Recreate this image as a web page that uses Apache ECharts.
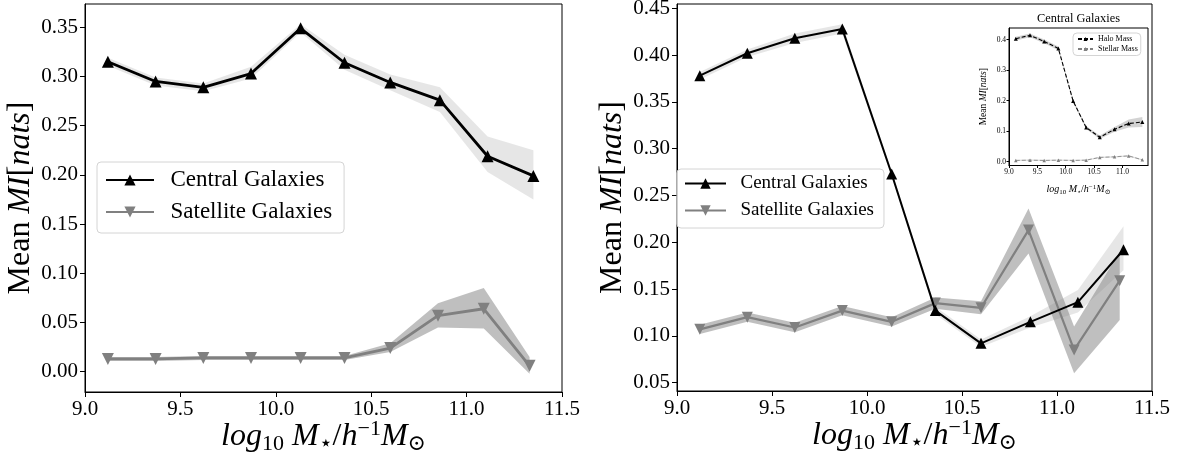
<!DOCTYPE html>
<html><head><meta charset="utf-8">
<script src="https://cdn.jsdelivr.net/npm/echarts@6/dist/echarts.min.js"></script>
<style>html,body{margin:0;padding:0;background:#fff}#c{width:1186px;height:455px}</style>
</head><body><div id="c"></div>
<script>
// ---------- data ----------
const xTicks = [9.0, 9.5, 10.0, 10.5, 11.0, 11.5];
const insetXTicks = [9.0, 9.5, 10.0, 10.5, 11.0];
const leftYTicks = [0.00, 0.05, 0.10, 0.15, 0.20, 0.25, 0.30, 0.35];
const rightYTicks = [0.05, 0.10, 0.15, 0.20, 0.25, 0.30, 0.35, 0.40, 0.45];
const insetYTicks = [0.0, 0.1, 0.2, 0.3, 0.4];

const xCentral = [9.12, 9.37, 9.62, 9.87, 10.13, 10.36, 10.60, 10.86, 11.11, 11.35];
const xSatellite = [9.12, 9.37, 9.62, 9.87, 10.13, 10.36, 10.60, 10.85, 11.09, 11.33];

// left panel
const leftCentral   = [0.315, 0.295, 0.289, 0.303, 0.349, 0.314, 0.294, 0.276, 0.219, 0.199];
const leftCentralHi = [0.319, 0.299, 0.293, 0.310, 0.353, 0.322, 0.302, 0.289, 0.239, 0.225];
const leftCentralLo = [0.311, 0.291, 0.285, 0.298, 0.345, 0.307, 0.286, 0.264, 0.203, 0.175];
const leftSat   = [0.013, 0.013, 0.014, 0.014, 0.014, 0.014, 0.024, 0.057, 0.064, 0.006];
const leftSatHi = [0.015, 0.015, 0.016, 0.016, 0.016, 0.016, 0.029, 0.0695, 0.085, 0.015];
const leftSatLo = [0.011, 0.011, 0.012, 0.012, 0.012, 0.012, 0.020, 0.045, 0.044, -0.002];

// right panel
const rightCentral   = [0.378, 0.402, 0.418, 0.428, 0.273, 0.127, 0.092, 0.115, 0.136, 0.192];
const rightCentralHi = [0.382, 0.406, 0.423, 0.433, 0.276, 0.131, 0.096, 0.121, 0.149, 0.217];
const rightCentralLo = [0.374, 0.398, 0.413, 0.423, 0.270, 0.123, 0.088, 0.109, 0.125, 0.170];
const rightSat   = [0.107, 0.120, 0.109, 0.127, 0.115, 0.135, 0.130, 0.213, 0.085, 0.159];
const rightSatHi = [0.112, 0.125, 0.114, 0.132, 0.120, 0.141, 0.137, 0.236, 0.110, 0.190];
const rightSatLo = [0.102, 0.115, 0.104, 0.122, 0.110, 0.129, 0.123, 0.188, 0.060, 0.117];

// inset (Central Galaxies)
const insetHalo   = [0.403, 0.414, 0.394, 0.371, 0.199, 0.112, 0.080, 0.106, 0.125, 0.130];
const insetHaloHi = [0.409, 0.420, 0.400, 0.377, 0.204, 0.117, 0.086, 0.114, 0.138, 0.146];
const insetHaloLo = [0.397, 0.408, 0.388, 0.365, 0.194, 0.107, 0.074, 0.098, 0.112, 0.114];
const insetStellar   = [0.004, 0.005, 0.004, 0.005, 0.004, 0.005, 0.014, 0.016, 0.019, 0.006];
const insetStellarHi = [0.006, 0.007, 0.006, 0.007, 0.006, 0.007, 0.016, 0.018, 0.021, 0.008];
const insetStellarLo = [0.002, 0.003, 0.002, 0.003, 0.002, 0.003, 0.012, 0.014, 0.017, 0.004];

// ---------- helpers ----------
const SERIF = "'Liberation Serif', 'DejaVu Serif', serif";
function pairs(xs, ys) { return xs.map((x, i) => [x, ys[i]]); }
function band(xs, lo, hi, gi, color) {
  return {type: 'custom', xAxisIndex: gi, yAxisIndex: gi, silent: true, z: 1,
    data: xs.map((x, i) => [x, lo[i], hi[i]]),
    encode: {x: 0, y: [1, 2]},
    renderItem: function (params, api) {
      if (params.dataIndexInside !== 0) return null;
      const n = params.dataInsideLength;
      const top = [], bot = [];
      for (let k = 0; k < n; k++) {
        top.push(api.coord([api.value(0, k), api.value(2, k)]));
        bot.push(api.coord([api.value(0, k), api.value(1, k)]));
      }
      return {type: 'polygon', shape: {points: top.concat(bot.reverse())}, style: {fill: color}};
    }};
}
function line(name, xs, ys, gi, color, width, size, rotate, z, dashed) {
  return {type: 'line', name: name, xAxisIndex: gi, yAxisIndex: gi, data: pairs(xs, ys),
    symbol: 'triangle', symbolSize: size, symbolRotate: rotate, showSymbol: true,
    itemStyle: {color: color}, lineStyle: {color: color, width: width, type: dashed ? [4, 2] : 'solid'},
    z: z, silent: true};
}
function massName(sz) {
  const L = Math.round(sz * 1.15), s = Math.round(sz * 0.68);
  return {
    text: '{i|log}{s|10}{r| }{i|M}{s|⋆}{r|/}{i|h}{p|−1}{i|M}{s|⊙}',
    style: {fontFamily: SERIF, fontSize: sz, color: '#000', rich: {
      i: {fontFamily: SERIF, fontStyle: 'italic', fontSize: sz, lineHeight: L, verticalAlign: 'middle', color: '#000'},
      r: {fontFamily: SERIF, fontSize: sz, lineHeight: L, verticalAlign: 'middle', color: '#000'},
      s: {fontFamily: SERIF, fontSize: s, lineHeight: s, verticalAlign: 'bottom', color: '#000'},
      p: {fontFamily: SERIF, fontSize: s, lineHeight: Math.round(s * 1.1), verticalAlign: 'top', color: '#000'}
    }}
  };
}
function miName(sz) {
  return {
    text: 'Mean {i|MI}[{i|nats}]',
    style: {fontFamily: SERIF, fontSize: sz, color: '#000', rich: {
      i: {fontFamily: SERIF, fontStyle: 'italic', fontSize: sz, color: '#000'}
    }}
  };
}
function xAxisCfg(gi, min, max, ticks, fs, margin, tickLen, nameSz, nameGap) {
  const n = massName(nameSz);
  return {type: 'value', gridIndex: gi, min: min, max: max,
    axisLine: {show: true, onZero: false, lineStyle: {color: '#000', width: 1}},
    axisTick: {show: true, inside: false, length: tickLen, customValues: ticks, lineStyle: {color: '#000', width: 1}},
    axisLabel: {customValues: ticks, formatter: v => v.toFixed(1), fontFamily: SERIF, fontSize: fs, color: '#000', margin: margin},
    splitLine: {show: false},
    name: n.text, nameLocation: 'middle', nameGap: nameGap, nameMoveOverlap: false, nameTextStyle: n.style};
}
function yAxisCfg(gi, min, max, ticks, dec, fs, margin, tickLen, nameSz, nameGap) {
  const n = miName(nameSz);
  return {type: 'value', gridIndex: gi, min: min, max: max,
    axisLine: {show: true, onZero: false, lineStyle: {color: '#000', width: 1}},
    axisTick: {show: true, inside: false, length: tickLen, customValues: ticks, lineStyle: {color: '#000', width: 1}},
    axisLabel: {customValues: ticks, formatter: v => v.toFixed(dec), fontFamily: SERIF, fontSize: fs, color: '#000', margin: margin},
    splitLine: {show: false},
    name: n.text, nameLocation: 'middle', nameGap: nameGap, nameMoveOverlap: false, nameTextStyle: n.style};
}
function legendCfg(left, top, names, fs, itemW, itemH, gap, pad, lh, spaces) {
  return {left: left, top: top, orient: 'vertical', data: names, selectedMode: false,
    itemWidth: itemW, itemHeight: itemH, itemGap: gap, padding: pad,
    formatter: n => spaces + n.trim(),
    textStyle: {fontFamily: SERIF, fontSize: fs, color: '#000', lineHeight: lh},
    borderColor: '#d4d4d4', borderWidth: 1, borderRadius: 4, backgroundColor: 'rgba(255,255,255,0.8)'};
}

const CEN_BAND = 'rgba(200,200,200,0.45)';
const SAT_BAND = 'rgba(128,128,128,0.5)';
const GREY = '#808080';

const series = [
  band(xCentral, leftCentralLo, leftCentralHi, 0, CEN_BAND),
  band(xSatellite, leftSatLo, leftSatHi, 0, SAT_BAND),
  band(xCentral, rightCentralLo, rightCentralHi, 1, CEN_BAND),
  band(xSatellite, rightSatLo, rightSatHi, 1, SAT_BAND),
  band(xCentral, insetHaloLo, insetHaloHi, 2, 'rgba(128,128,128,0.35)'),
  band(xCentral, insetStellarLo, insetStellarHi, 2, 'rgba(128,128,128,0.25)'),
  line('Satellite Galaxies', xSatellite, leftSat, 0, GREY, 2.8, 12, 180, 3, false),
  line('Central Galaxies', xCentral, leftCentral, 0, '#000', 2.8, 12, 0, 4, false),
  line('Satellite Galaxies ', xSatellite, rightSat, 1, GREY, 2.2, 11, 180, 3, false),
  line('Central Galaxies ', xCentral, rightCentral, 1, '#000', 2.0, 11, 0, 4, false),
  line('Halo Mass', xCentral, insetHalo, 2, '#000', 1.1, 4, 0, 4, true),
  line('Stellar Mass', xCentral, insetStellar, 2, GREY, 0.8, 3.5, 0, 4, true)
];

const chart = echarts.init(document.getElementById('c'), null, {renderer: 'canvas'});
chart.setOption({
  animation: false,
  backgroundColor: '#fff',
  grid: [
    {left: 85, top: 4, width: 477, height: 388, show: true, borderColor: '#000', borderWidth: 1, backgroundColor: 'transparent', containLabel: false, outerBoundsMode: 'none'},
    {left: 677, top: 4, width: 475, height: 387, show: true, borderColor: '#000', borderWidth: 1, backgroundColor: 'transparent', containLabel: false, outerBoundsMode: 'none'},
    {left: 1009, top: 28, width: 139, height: 137.5, show: true, borderColor: '#000', borderWidth: 1, backgroundColor: '#fff', containLabel: false, outerBoundsMode: 'none'}
  ],
  xAxis: [
    xAxisCfg(0, 9, 11.5, xTicks, 21, 7, 5, 32, 26),
    xAxisCfg(1, 9, 11.5, xTicks, 21, 7, 5, 32, 26),
    xAxisCfg(2, 9, 11.45, insetXTicks, 7.5, 3, 2.5, 10, 18)
  ],
  yAxis: [
    yAxisCfg(0, -0.0206, 0.3737, leftYTicks, 2, 21, 7, 5, 32, 48),
    yAxisCfg(1, 0.0411, 0.4546, rightYTicks, 2, 21, 7, 5, 32, 48),
    yAxisCfg(2, -0.0125, 0.438, insetYTicks, 1, 7.5, 3, 2.5, 9.5, 21)
  ],
  legend: [
    legendCfg(97, 162, ['Central Galaxies', 'Satellite Galaxies'], 23, 48, 14, 8, [6, 12, 9, 8], 24, '  '),
    legendCfg(677, 169, ['Central Galaxies ', 'Satellite Galaxies '], 19, 41, 13, 6, [4, 10, 7, 7], 21, '  '),
    legendCfg(1073, 33, ['Halo Mass', 'Stellar Mass'], 8, 15, 5, 1, [1.5, 3, 2, 4], 9, '')
  ],
  graphic: [
    {type: 'text', x: 1078.5, y: 18.3, silent: true,
     style: {text: 'Central Galaxies', fontFamily: SERIF, fontSize: 12.4, fill: '#000', align: 'center', verticalAlign: 'middle'}}
  ],
  series: series
});
</script>
</body></html>
